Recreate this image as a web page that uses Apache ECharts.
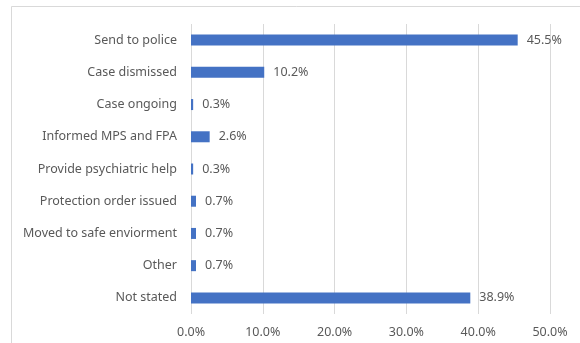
<!DOCTYPE html>
<html>
<head>
<meta charset="utf-8">
<script src="https://cdn.jsdelivr.net/npm/echarts@6/dist/echarts.min.js"></script>
<style>
  html, body { margin: 0; padding: 0; background: #fff; }
</style>
</head>
<body>
<div id="main" style="width: 580px;height:343px;"></div>
<script>
  const categories = ['Send to police', 'Case dismissed', 'Case ongoing', 'Informed MPS and FPA',
    'Provide psychiatric help', 'Protection order issued', 'Moved to safe enviorment', 'Other', 'Not stated'];
  const percentValues = [45.5, 10.2, 0.3, 2.6, 0.3, 0.7, 0.7, 0.7, 38.9];
  const axisMax = 50;
  const axisStep = 10;

  let myChart = echarts.init(document.getElementById('main'));
  let option = {
    backgroundColor: '#fff',
    animation: false,
    textStyle: { fontFamily: 'Noto Sans' },
    graphic: [{
      type: 'rect',
      shape: { x: 11.5, y: 6.5, width: 600, height: 400 },
      style: { fill: 'none', stroke: '#d9d9d9', lineWidth: 1 },
      silent: true
    }],
    grid: {
      left: 191,
      right: 30,
      top: 24,
      bottom: 29
    },
    xAxis: {
      type: 'value',
      min: 0,
      max: axisMax,
      interval: axisStep,
      axisLabel: {
        color: '#595959',
        fontSize: 12.5,
        margin: 12,
        formatter: v => v.toFixed(1) + '%'
      },
      axisLine: { show: false },
      axisTick: { show: false },
      splitLine: { lineStyle: { color: '#d9d9d9', width: 1 } }
    },
    yAxis: {
      type: 'category',
      inverse: true,
      data: categories,
      axisLabel: {
        color: '#595959',
        fontSize: 12.5,
        margin: 14
      },
      axisLine: { show: false },
      axisTick: { show: false }
    },
    series: [{
      type: 'bar',
      data: percentValues,
      barWidth: 11,
      itemStyle: { color: '#4472C4' },
      label: {
        show: true,
        position: 'right',
        distance: 9,
        color: '#595959',
        fontSize: 12.5,
        formatter: p => p.value.toFixed(1) + '%'
      }
    }]
  };
  myChart.setOption(option);
</script>
</body>
</html>
